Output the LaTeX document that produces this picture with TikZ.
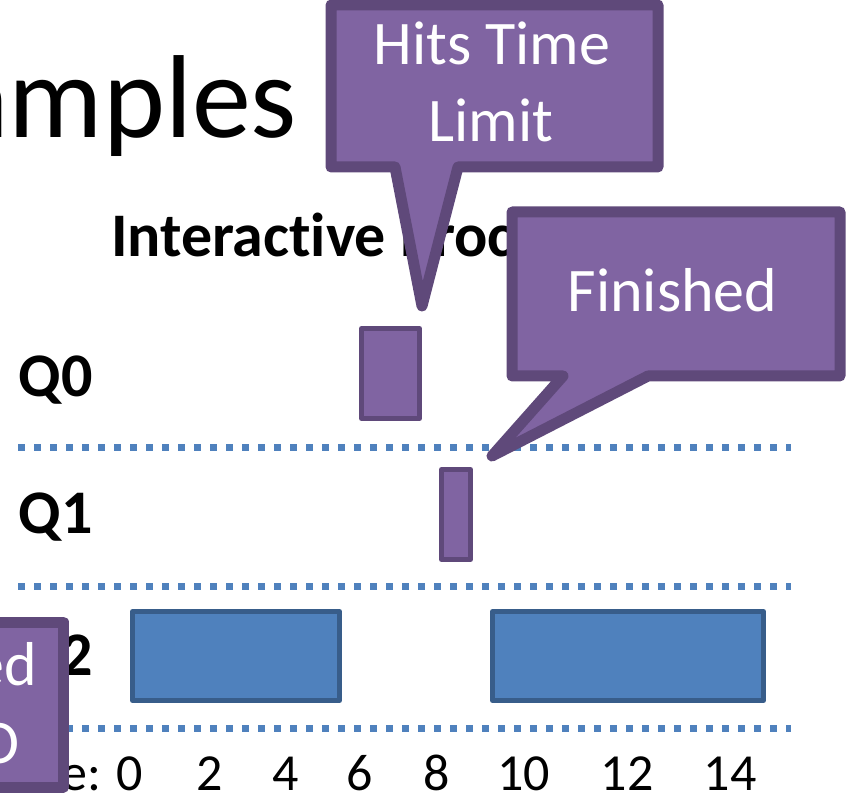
\documentclass[tikz,border=0pt]{standalone}
\usepackage{fontspec}
\setmainfont{Carlito}[Ligatures=NoCommon]
\definecolor{jobpurple}{HTML}{8064A2}
\definecolor{jobpurpleedge}{HTML}{5F497A}
\definecolor{jobblue}{HTML}{4F81BD}
\definecolor{jobblueedge}{HTML}{385D8A}
\tikzset{
  txt/.style={inner sep=0pt, outer sep=0pt},
  qlabel/.style={txt, anchor=base west, font=\fontsize{62}{77}\selectfont\bfseries},
  ticklabel/.style={txt, anchor=base, font=\fontsize{52}{62}\selectfont},
  calltext/.style={txt, text=white, font=\fontsize{62}{77}\selectfont},
  queuesep/.style={draw=jobblue, line width=7pt, dash pattern=on 7pt off 9pt},
  purplejob/.style={draw=jobpurpleedge, fill=jobpurple, line width=5pt, line join=round,
    inner sep=0pt, outer sep=0pt},
  bluejob/.style={draw=jobblueedge, fill=jobblue, line width=5pt, line join=round,
    inner sep=0pt, outer sep=0pt},
  callout/.style={draw=jobpurpleedge, fill=jobpurple, line width=11pt, line join=round},
}
\begin{document}
\begin{tikzpicture}[x=1pt, y=-1pt]
\useasboundingbox (0,0) rectangle (846,799);
\clip (0,0) rectangle (846,799);

% title and heading
\node[txt, anchor=base east, font=\fontsize{118}{138}\selectfont] (title) at (297,138) {amples};
\node[txt, anchor=base west, font=\fontsize{62}{77}\selectfont\bfseries] (heading) at (111,257) {Interactive Process};

% queue labels
\node[qlabel] (q0) at (19,396) {Q0};
\node[qlabel] (q1) at (19,533) {Q1};
\node[qlabel] (q2) at (19,675) {Q2};

% dotted separators between the queues
\coordinate (s1a) at (18,447); \coordinate (s1b) at (791,447);
\coordinate (s2a) at (18,586); \coordinate (s2b) at (791,586);
\coordinate (s3a) at (18,728); \coordinate (s3b) at (791,728);
\draw[queuesep] (s1a) -- (s1b);
\draw[queuesep] (s2a) -- (s2b);
\draw[queuesep] (s3a) -- (s3b);

% time axis
\node[txt, anchor=base east, font=\fontsize{52}{62}\selectfont] (timelbl) at (101,790) {Time:};
\node[ticklabel] (t0)  at (129.5,790) {0};
\node[ticklabel] (t2)  at (210,790) {2};
\node[ticklabel] (t4)  at (286,790) {4};
\node[ticklabel] (t6)  at (360,790) {6};
\node[ticklabel] (t8)  at (437,790) {8};
\node[ticklabel] (t10) at (523.5,790) {10};
\node[ticklabel] (t12) at (627,790) {12};
\node[ticklabel] (t14) at (730,790) {14};

% jobs
\node[purplejob, minimum width=58pt, minimum height=90pt] (jobq0) at (390.5,373.5) {};
\node[purplejob, minimum width=29pt, minimum height=90pt] (jobq1) at (456,514.5) {};
\node[bluejob, minimum width=207pt, minimum height=89pt] (jobq2a) at (236,656) {};
\node[bluejob, minimum width=271pt, minimum height=89pt] (jobq2b) at (628,656) {};

% callout: time limit
\draw[callout] (331,5) -- (658,5) -- (658,167) -- (458,167) -- (422,306)
  -- (395,167) -- (331,167) -- cycle;
\node[calltext, anchor=base] (limit1) at (492,65) {Hits Time};
\node[calltext, anchor=base] (limit2) at (491,142) {Limit};

% callout: finished
\draw[callout] (512,212) -- (840,212) -- (840,376) -- (648,376) -- (492,456)
  -- (563,376) -- (512,376) -- cycle;
\node[calltext, anchor=base] (finished) at (672.5,312) {Finished};

% callout at the left edge
\draw[callout] (-30,622) -- (63.5,622) -- (63.5,787) -- (-30,787) -- cycle;
\node[calltext, anchor=base east] (left1) at (37,685) {ed};
\node[calltext, anchor=base east] (left2) at (20,763) {O};
\end{tikzpicture}
\end{document}
